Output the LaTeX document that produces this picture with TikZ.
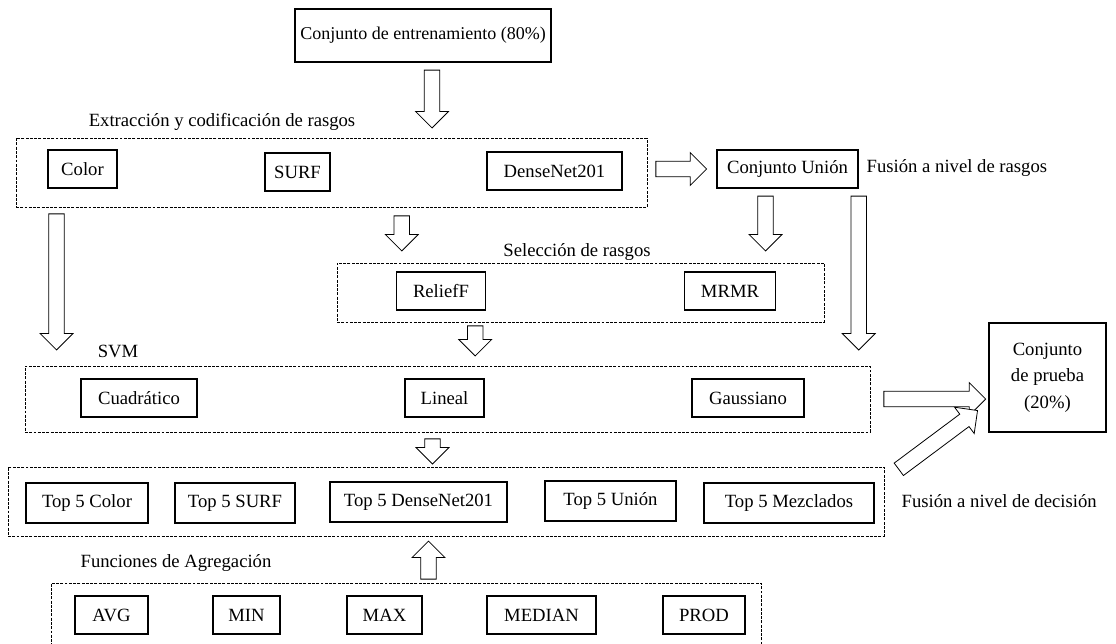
\documentclass[tikz,border=0pt]{standalone}
\usepackage{fontspec}
\setmainfont{Liberation Serif}
\usetikzlibrary{calc,fit,shapes.arrows}

% hollow block arrow from #1 to #2
\newcommand{\blockarrow}[2]{%
  \path let \p1=#1, \p2=#2,
    \n1={veclen(\x2-\x1,\y2-\y1)}, \n2={atan2(\y2-\y1,\x2-\x1)} in
    node[barrow, minimum height=\n1, rotate=\n2, anchor=tail] at (\p1) {};}

\begin{document}
\begin{tikzpicture}[x=0.75pt, y=-0.75pt,
    every node/.style={font=\fontsize{14}{16.5}\selectfont},
    box/.style={draw, line width=1.1pt, minimum height=28.5pt, inner sep=2pt},
    wd/.style={minimum width=#1*0.75pt},
    group/.style={draw, dash pattern=on 2.2pt off 1pt, line width=0.7pt, inner sep=0pt},
    barrow/.style={single arrow, draw, fill=white, line width=0.6pt,
      inner xsep=0pt, inner ysep=5.5pt, minimum width=0pt,
      single arrow head extend=6.5pt, single arrow tip angle=90}]
    \useasboundingbox (0,0) rectangle (1116,643);

    % Training set
    \node[box, wd=256, minimum height=39.75pt, font=\fontsize{13.5}{16}\selectfont] (train) at (423,35.5) {Conjunto de entrenamiento (80\%)};

    % Feature extraction
    \node[group, fit={(16,138) (647,207)}] (extract) {};
    \node (extractlbl) at (222,122) {Extracción y codificación de rasgos};
    \node[box, wd=69] (color) at (82.5,169) {Color};
    \node[box, wd=65] (surf) at (297.5,172) {SURF};
    \node[box, wd=135] (dense) at (554.5,171) {DenseNet201};

    % Feature level fusion
    \node[box, wd=141] (union) at (787.5,169) {Conjunto Unión};
    \node[anchor=west] (fusionr) at (862,168) {Fusión a nivel de rasgos};

    % Feature selection
    \node[group, fit={(337,263) (824,322)}] (select) {};
    \node (selectlbl) at (577,252) {Selección de rasgos};
    \node[box, wd=89] (relief) at (441,291) {ReliefF};
    \node[box, wd=91] (mrmr) at (730,291) {MRMR};

    % SVM
    \node[group, fit={(25,366) (870,432)}] (svm) {};
    \node (svmlbl) at (118,351) {SVM};
    \node[box, wd=116] (cuad) at (139,398) {Cuadrático};
    \node[box, wd=79] (lineal) at (444.5,398) {Lineal};
    \node[box, wd=112] (gauss) at (748,398) {Gaussiano};

    % Test set
    \node[box, wd=117, minimum height=81.75pt, align=center,
      font=\fontsize{14}{20}\selectfont] (test) at (1047.5,377.5) {Conjunto\\de prueba\\(20\%)};

    % Top 5
    \node[group, fit={(8,467) (884,536)}] (top5) {};
    \node[box, wd=122, minimum height=30pt] (t5color) at (87,503) {Top 5 Color};
    \node[box, wd=120, minimum height=30pt] (t5surf) at (235,503) {Top 5 SURF};
    \node[box, wd=177, minimum height=30pt] (t5dense) at (418.5,502) {Top 5 DenseNet201};
    \node[box, wd=131, minimum height=30pt] (t5union) at (610.5,501) {Top 5 Unión};
    \node[box, wd=170, minimum height=30pt] (t5mezc) at (789,503) {Top 5 Mezclados};
    \node[anchor=west] (fusiond) at (897,501) {Fusión a nivel de decisión};

    % Aggregation functions
    \node[group, fit={(51,583) (761,660)}] (agg) {};
    \node (agglbl) at (176,563) {Funciones de Agregación};
    \node[box, wd=73] (avg) at (111.5,615) {AVG};
    \node[box, wd=67] (min) at (246.5,615) {MIN};
    \node[box, wd=75] (max) at (384.5,615) {MAX};
    \node[box, wd=109] (median) at (541.5,615) {MEDIAN};
    \node[box, wd=82] (prod) at (704,615) {PROD};

    % Arrows
    \blockarrow{($(train.south)+(9,7)$)}{($(extract.north -| train.south)+(9,-10)$)}
    \blockarrow{($(extract.east |- union)+(8,0)$)}{($(union.west)+(-10,0)$)}
    \blockarrow{($(extract.south west)+(41,6)$)}{($(svm.north west)+(32,-16)$)}
    \blockarrow{($(extract.south -| relief.west)+(6,8)$)}{($(select.north -| relief.west)+(6,-12)$)}
    \blockarrow{($(union.south)+(-22,7)$)}{($(select.north -| union.south)+(-22,-12)$)}
    \blockarrow{($(union.south east)+(0,7)$)}{($(svm.north -| union.east)+(0,-16)$)}
    \blockarrow{($(select.south -| relief.east)+(-11,3)$)}{($(svm.north -| relief.east)+(-11,-10)$)}
    \blockarrow{($(svm.east)+(13,0)$)}{($(test.west |- svm.east)+(-3,0)$)}
    \blockarrow{($(top5.north east)+(14,3)$)}{($(test.south west)+(-11,-22)$)}
    \blockarrow{($(svm.south -| lineal)+(-12,6)$)}{($(top5.north -| lineal)+(-12,-3)$)}
    \blockarrow{($(agg.north -| t5dense)+(10,-3)$)}{($(top5.south -| t5dense)+(10,5)$)}
\end{tikzpicture}
\end{document}
